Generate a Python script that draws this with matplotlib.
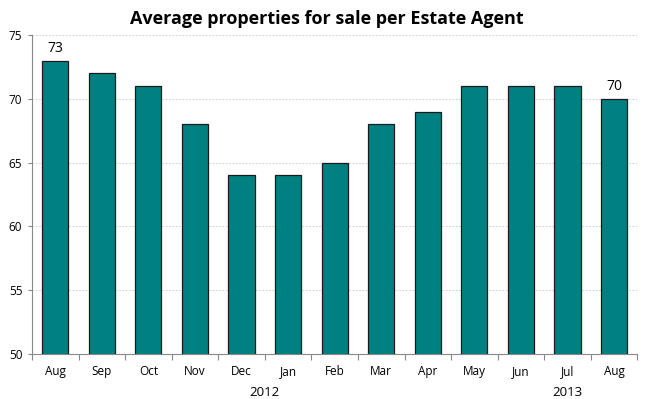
import numpy as np
import matplotlib.pyplot as plt

# monthly averages, Aug 2012 - Aug 2013
months = ["Aug", "Sep", "Oct", "Nov", "Dec", "Jan", "Feb",
          "Mar", "Apr", "May", "Jun", "Jul", "Aug"]
values = [73, 72, 71, 68, 64, 64, 65, 68, 69, 71, 71, 71, 70]
years = ["2012", "2013"]
year_pos = [4.5, 11]

plt.rcParams['font.family'] = ['Open Sans', 'DejaVu Sans']

fig = plt.figure(figsize=(6.53, 3.99), dpi=100)
ax = fig.add_axes([0.049, 0.113, 0.927, 0.799])

x = np.arange(len(months))
ax.bar(x, values, width=0.56, color="#008080", edgecolor="#1a1a1a",
       linewidth=0.9, zorder=3)

ax.set_xlim(-0.5, len(months) - 0.5)
ax.set_ylim(50, 75)
ax.set_yticks(np.arange(50, 76, 5))
ax.tick_params(axis="y", labelsize=8.5, length=3, color="#888888", pad=4)

# ticks between categories, labels at centers
ax.set_xticks(np.arange(-0.5, len(months), 1))
ax.set_xticklabels([])
ax.set_xticks(x, minor=True)
ax.set_xticklabels(months, minor=True, fontsize=8.5)
ax.tick_params(axis="x", which="major", length=4, color="#888888")
ax.tick_params(axis="x", which="minor", length=0, pad=8)

for pos, yr in zip(year_pos, years):
    ax.text(pos, -0.12, yr, transform=ax.get_xaxis_transform(),
            ha="center", va="center", fontsize=9.5)

# end labels
for i in [0, len(values) - 1]:
    ax.text(x[i], values[i] + 0.4, str(values[i]), ha="center",
            va="bottom", fontsize=10)

ax.grid(axis="y", linestyle=(0, (2, 2)), linewidth=0.6, color="#c8c8c8",
        zorder=0)
for s in ["top", "right"]:
    ax.spines[s].set_visible(False)
ax.spines["left"].set_color("#888888")
ax.spines["bottom"].set_color("#888888")

fig.suptitle("Average properties for sale per Estate Agent", y=0.975,
             fontsize=13, fontweight="bold")

fig.savefig("out.png", dpi=100)
